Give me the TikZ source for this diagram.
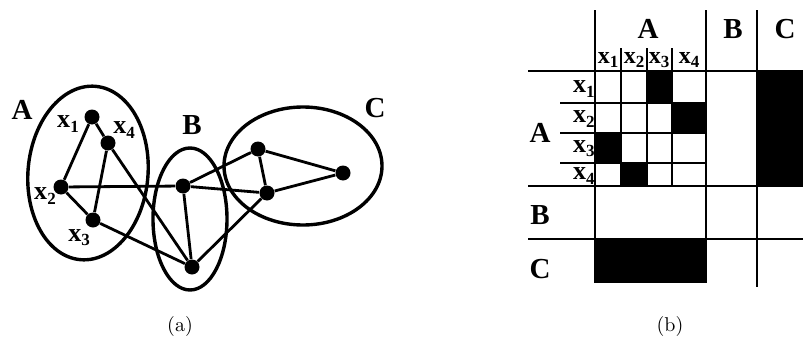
\documentclass[tikz,border=0pt]{standalone}
\usepackage{fontspec}
\setmainfont{Liberation Serif}
\newfontfamily\capfont{Latin Modern Roman}
\usetikzlibrary{positioning}
\newcommand{\vx}[1]{x\raisebox{-0.35ex}{\fontsize{8.5}{8.5}\selectfont #1}}

\begin{document}
\begin{tikzpicture}[x=0.5pt, y=-0.5pt,
    vtx/.style={circle, fill=black, inner sep=0pt, minimum size=7.5pt},
    lbl/.style={font=\bfseries\fontsize{13}{13}\selectfont, inner sep=0.5pt},
    hdr/.style={font=\bfseries\fontsize{12}{12}\selectfont, inner sep=0pt},
    grp/.style={font=\bfseries\fontsize{14.5}{14.5}\selectfont, inner sep=0.5pt},
    edge/.style={line width=1.4pt},
    ring/.style={line width=1.7pt},
    grid/.style={line width=0.9pt}]
    \useasboundingbox (0,0) rectangle (803,337);

    % (a) groups
    \draw[ring, rotate around={-5:(88,173)}] (88,173) ellipse [x radius=60, y radius=87];
    \draw[ring] (190,219) ellipse [x radius=37, y radius=71];
    \draw[ring] (303,166) ellipse [x radius=79, y radius=59];

    % (a) nodes
    \node[vtx] (x1) at (92,117) {};
    \node[vtx] (x4) at (108,143) {};
    \node[vtx] (x2) at (61,187) {};
    \node[vtx] (x3) at (93,220) {};
    \node[vtx] (b1) at (183,186) {};
    \node[vtx] (b2) at (192,267) {};
    \node[vtx] (c1) at (258,149) {};
    \node[vtx] (c2) at (267,193) {};
    \node[vtx] (c3) at (343,173) {};

    % (a) labels
    \node[grp] at (22,110) {A};
    \node[grp] at (192,125) {B};
    \node[grp] at (375,108) {C};
    \node[lbl] at (68,124) {\vx{1}};
    \node[lbl] at (124,130) {\vx{4}};
    \node[lbl] at (45,196) {\vx{2}};
    \node[lbl] at (79,238) {\vx{3}};

    % (a) edges
    \draw[edge] (x1) -- (x2);
    \draw[edge] (x1) -- (x4);
    \draw[edge] (x4) -- (x3);
    \draw[edge] (x2) -- (x3);
    \draw[edge] (x2) -- (b1);
    \draw[edge] (x4) -- (b2);
    \draw[edge] (x3) -- (b2);
    \draw[edge] (b1) -- (b2);
    \draw[edge] (b1) -- (c1);
    \draw[edge] (b1) -- (c2);
    \draw[edge] (b2) -- (c2);
    \draw[edge] (c1) -- (c2);
    \draw[edge] (c1) -- (c3);
    \draw[edge] (c2) -- (c3);

    % (b) filled blocks
    \fill (647,71) rectangle (672,103);
    \fill (672,103) rectangle (706,133);
    \fill (595,133) rectangle (621,163);
    \fill (621,163) rectangle (647,186);
    \fill (757,71) rectangle (803,186);
    \fill (595,239) rectangle (706,283);

    % (b) grid lines
    \draw[grid] (595,10) -- (595,283);
    \draw[grid] (706,10) -- (706,283);
    \draw[grid] (757,10) -- (757,287);
    \foreach \cx in {621,647,672}
        \draw[grid] (\cx,48) -- (\cx,186);
    \foreach \ry in {71,186,239}
        \draw[grid] (528,\ry) -- (803,\ry);
    \foreach \ry in {103,133,163}
        \draw[grid] (560,\ry) -- (706,\ry);

    % (b) labels
    \node[grp] at (648,29) {A};
    \node[grp] at (733,29) {B};
    \node[grp] at (785,29) {C};
    \node[grp] at (540,133) {A};
    \node[grp] at (540,215) {B};
    \node[grp] at (540,269) {C};
    \foreach \k/\cx in {1/608,2/634,3/659,4/689}
        \node[hdr] at (\cx,60) {\vx{\k}};
    \foreach \k/\ry in {1/89,2/119,3/149,4/176}
        \node[lbl, anchor=east] at (596,\ry) {\vx{\k}};

    % captions
    \node[font=\capfont\fontsize{10}{10}\selectfont] at (180,326) {(a)};
    \node[font=\capfont\fontsize{10}{10}\selectfont] at (670,326) {(b)};
\end{tikzpicture}
\end{document}
